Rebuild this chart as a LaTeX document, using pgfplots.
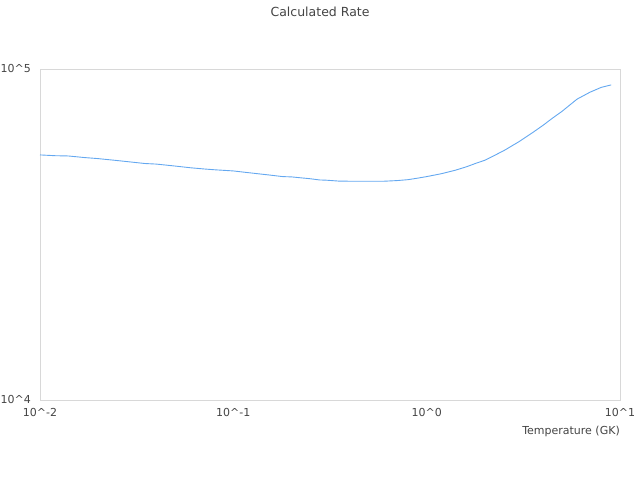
\documentclass[border=0pt]{standalone}
\usepackage{pgfplots}
\pgfplotsset{compat=1.18}
\usepackage{fontspec}
\setmainfont{DejaVu Sans}
\definecolor{linec}{HTML}{64A8F0}
\definecolor{framec}{HTML}{D8D8D8}
\definecolor{textc}{HTML}{444444}
\begin{document}
\begin{tikzpicture}[x=1bp,y=1bp]
\useasboundingbox (0,0) rectangle (640,480);
\begin{axis}[
  at={(40bp,80bp)}, anchor=south west,
  scale only axis, width=580bp, height=331bp,
  xmode=log, ymode=log,
  xmin=0.01, xmax=10, ymin=1e4, ymax=1e5,
  axis line style={framec, line width=0.8bp},
  major tick length=0pt, minor tick length=0pt,
  xtick={0.01,0.1,1,10},
  xticklabels={10\textasciicircum-2,10\textasciicircum-1,10\textasciicircum0,10\textasciicircum1},
  ytick={1e4,1e5},
  yticklabels={10\textasciicircum4,10\textasciicircum5},
  minor xtick={}, minor ytick={},
  xticklabel style={font=\fontsize{11bp}{13bp}\selectfont, text=textc, anchor=center, yshift=-13bp, inner sep=0pt},
  yticklabel style={font=\fontsize{11bp}{13bp}\selectfont, text=textc, anchor=east, xshift=-9bp, inner sep=0pt},
  every axis x label/.style={font=\fontsize{11bp}{13bp}\selectfont, text=textc, at={(rel axis cs:1,0)}, anchor=east, yshift=-31bp, inner sep=0pt},
  xlabel={Temperature (GK)},
  title={Calculated Rate},
  title style={font=\fontsize{12.5bp}{15bp}\selectfont, text=textc, at={(rel axis cs:0.4828,1)}, anchor=center, yshift=51.5bp, inner sep=0pt},
  clip=false,
]
\addplot[linec, line width=0.9bp, mark=none] coordinates {
(0.01,55000) (0.012,54700) (0.014,54600) (0.017,54000) (0.02,53600)
(0.025,52900) (0.03,52300) (0.035,51800) (0.04,51600) (0.05,50900)
(0.06,50300) (0.07,49900) (0.08,49600) (0.1,49200) (0.12,48600)
(0.15,47900) (0.18,47300) (0.2,47200) (0.25,46600) (0.28,46200)
(0.3,46150) (0.35,45850) (0.4,45800) (0.5,45800) (0.6,45800)
(0.7,46000) (0.8,46300) (0.9,46800) (1.0,47300) (1.2,48300)
(1.4,49400) (1.6,50600) (1.8,51900) (2.0,53000) (2.5,56600)
(3.0,60300) (3.5,64000) (4.0,67600) (4.5,71200) (5.0,74400)
(6.0,81100) (7.0,85100) (8.0,88000) (9.0,89500)
};
\end{axis}
\end{tikzpicture}
\end{document}
